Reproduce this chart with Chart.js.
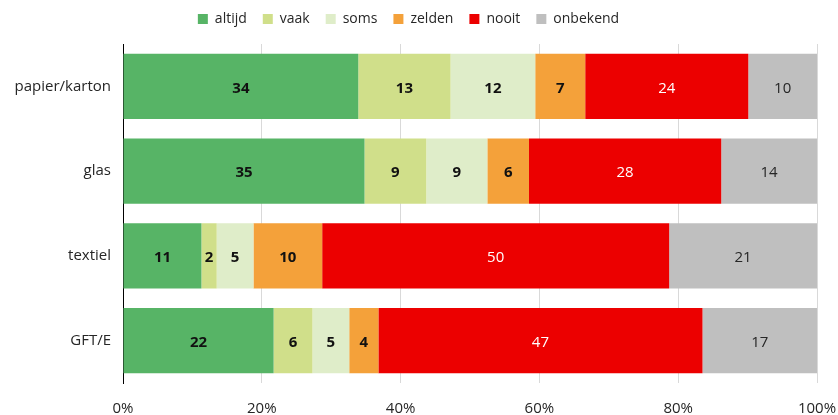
<!DOCTYPE html>
<html>
<head>
<meta charset="utf-8">
<script src="https://cdn.jsdelivr.net/npm/chart.js@4"></script>
<style>
    html, body { margin: 0; padding: 0; background: #ffffff; }
    #chart-wrap { width: 838px; height: 415px; }
</style>
</head>
<body>
<div id="chart-wrap"><canvas id="afval-chart" width="838" height="415"></canvas></div>
<script>
const categories = ['papier/karton', 'glas', 'textiel', 'GFT/E'];
const seriesNames = ['altijd', 'vaak', 'soms', 'zelden', 'nooit', 'onbekend'];
const altijd = [33.9, 34.8, 11.3, 21.7];
const vaak = [13.3, 8.9, 2.2, 5.6];
const soms = [12.2, 8.8, 5.3, 5.3];
const zelden = [7.2, 6.0, 9.9, 4.2];
const nooit = [23.5, 27.7, 50.0, 46.7];
const onbekend = [9.9, 13.8, 21.3, 16.5];
const xTicks = [0, 20, 40, 60, 80, 100];

const colors = ['#57b466', '#d0df8a', '#dfedc9', '#f4a13a', '#ec0000', '#bfbfbf'];
const labelColors = ['#111111', '#111111', '#111111', '#111111', '#ffffff', '#262626'];
const labelWeights = ['bold', 'bold', 'bold', 'bold', 'normal', 'normal'];
const fontFamily = '"Open Sans", "Noto Sans", sans-serif';

const seriesValues = [altijd, vaak, soms, zelden, nooit, onbekend];

// simple data labels, centered in each bar piece
const barLabels = {
    id: 'barLabels',
    afterDatasetsDraw(chart) {
        const ctx = chart.ctx;
        ctx.save();
        ctx.textAlign = 'center';
        ctx.textBaseline = 'middle';
        chart.data.datasets.forEach((ds, i) => {
            const meta = chart.getDatasetMeta(i);
            meta.data.forEach((bar, j) => {
                const pos = bar.getCenterPoint();
                ctx.fillStyle = labelColors[i];
                ctx.font = `${labelWeights[i]} 15px ${fontFamily}`;
                ctx.fillText(Math.round(ds.data[j]), pos.x, pos.y + 2);
            });
        });
        ctx.restore();
    }
};

// a bit more room between legend and plot
const legendGap = {
    id: 'legendGap',
    beforeLayout(chart) {
        const lg = chart.legend;
        if (lg && !lg._gapAdded) {
            const fit = lg.fit;
            lg.fit = function () {
                fit.call(this);
                this.height += 8;
            };
            lg._gapAdded = true;
        }
    }
};

const afvalChart = new Chart(document.getElementById('afval-chart').getContext('2d'), {
    type: 'bar',
    data: {
        labels: categories,
        datasets: seriesNames.map((name, i) => ({
            label: name,
            data: seriesValues[i],
            backgroundColor: colors[i],
            borderWidth: 0,
            categoryPercentage: 1,
            barPercentage: 0.77
        }))
    },
    options: {
        indexAxis: 'y',
        responsive: false,
        maintainAspectRatio: false,
        animation: false,
        layout: { padding: { left: 0, right: 21, top: -4, bottom: 0 } },
        plugins: {
            legend: {
                position: 'top',
                labels: {
                    boxWidth: 10,
                    boxHeight: 10,
                    padding: 16,
                    color: '#262626',
                    font: { family: fontFamily, size: 14 }
                }
            },
            tooltip: { enabled: false }
        },
        scales: {
            x: {
                stacked: true,
                min: 0,
                max: 100,
                afterBuildTicks: (scale) => { scale.ticks = xTicks.map(v => ({ value: v })); },
                afterFit: (scale) => {
                    scale.height = 32;
                    scale.paddingLeft = 0;
                    scale.paddingRight = 0;
                },
                grid: { color: '#d9d9d9', drawTicks: false },
                border: { display: false },
                ticks: {
                    padding: 17,
                    color: '#262626',
                    font: { family: fontFamily, size: 15 },
                    callback: (v) => v + '%'
                }
            },
            y: {
                stacked: true,
                afterFit: (scale) => { scale.width = 123; },
                grid: { display: false, drawTicks: false },
                border: { display: true, color: '#000000', width: 1 },
                ticks: {
                    padding: 12,
                    color: '#262626',
                    font: { family: fontFamily, size: 15 }
                }
            }
        }
    },
    plugins: [barLabels, legendGap]
});
</script>
</body>
</html>
